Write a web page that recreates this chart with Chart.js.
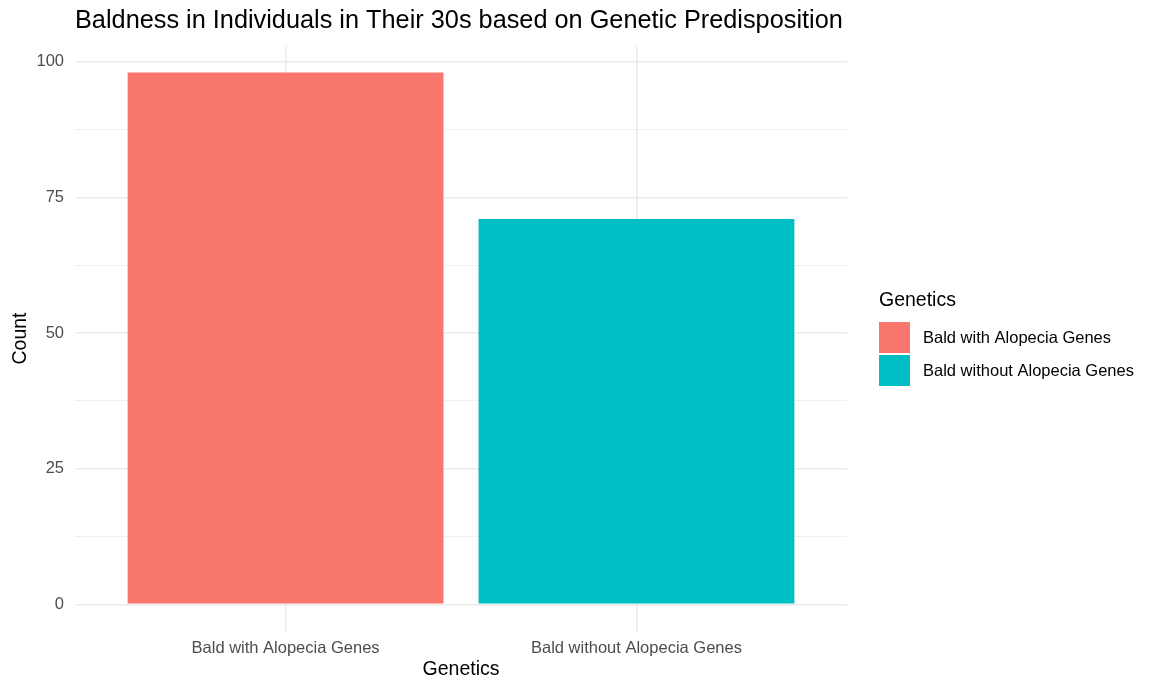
<!DOCTYPE html>
<html>
<head>
<meta charset="utf-8">
<script src="https://cdn.jsdelivr.net/npm/chart.js@4.4.0/dist/chart.umd.min.js"></script>
<style>
  html, body { margin: 0; padding: 0; background: #ffffff; }
  #wrap { width: 1155px; height: 681px; }
</style>
</head>
<body>
<div id="wrap"><canvas id="grafico"></canvas></div>
<script>
// Datos del grafico
const categorias = ['Bald with Alopecia Genes', 'Bald without Alopecia Genes'];
const conteos = [98, 71];
const colores = ['#F8766D', '#00BFC4'];
const ticksY = [0, 25, 50, 75, 100];
const ticksYMenores = [12.5, 37.5, 62.5, 87.5];

const titulo = 'Baldness in Individuals in Their 30s based on Genetic Predisposition';
const tituloLeyenda = 'Genetics';
const FUENTE = '"Liberation Sans", Arial, Helvetica, sans-serif';

// Limites tipo ggplot (expansion 5% en y, 0.6 en x discreto)
const yMax = Math.max(...conteos);
const yMin = -0.05 * yMax;
const yTop = yMax * 1.05;

// Titulo y leyenda dibujados a mano
const pluginTextos = {
    id: 'textos',
    afterDraw(chart) {
        const ctx = chart.ctx;
        const area = chart.chartArea;
        ctx.save();
        ctx.fillStyle = '#000000';
        ctx.font = '25.3px ' + FUENTE;
        ctx.textAlign = 'left';
        ctx.textBaseline = 'middle';
        ctx.fillText(titulo, area.left, 21);

        // leyenda
        const lx = area.right + 32;
        ctx.font = '19.5px ' + FUENTE;
        ctx.fillText(tituloLeyenda, lx, 301);
        ctx.font = '16.5px ' + FUENTE;
        categorias.forEach((c, i) => {
            const ky = 322 + i * 33;
            ctx.fillStyle = colores[i];
            ctx.fillRect(lx, ky, 31, 31);
            ctx.fillStyle = '#000000';
            ctx.fillText(c, lx + 44, ky + 16);
        });
        ctx.restore();
    }
};

new Chart(document.getElementById('grafico'), {
    type: 'bar',
    data: {
        datasets: [{
            data: categorias.map((c, i) => ({ x: i + 1, y: conteos[i] })),
            backgroundColor: colores,
            borderWidth: 0,
            barPercentage: 0.9,
            categoryPercentage: 1.0
        }]
    },
    options: {
        responsive: true,
        maintainAspectRatio: false,
        animation: false,
        layout: { padding: { left: 0, right: 308, top: 46, bottom: 0 } },
        plugins: {
            legend: { display: false },
            tooltip: { enabled: false }
        },
        scales: {
            x: {
                type: 'linear',
                offset: false,
                min: 0.4,
                max: categorias.length + 0.6,
                afterBuildTicks(scale) {
                    scale.ticks = categorias.map((c, i) => ({ value: i + 1 }));
                },
                afterFit(scale) { scale.height = 50; },
                grid: { color: '#EBEBEB', lineWidth: 1.6, drawTicks: false, offset: false },
                border: { display: false },
                ticks: {
                    padding: 8,
                    color: '#4D4D4D',
                    font: { family: FUENTE, size: 16.5 },
                    maxRotation: 0,
                    autoSkip: false,
                    callback: (v) => categorias[v - 1] || ''
                },
                title: {
                    display: true,
                    text: 'Genetics',
                    color: '#000000',
                    font: { family: FUENTE, size: 19.5 },
                    padding: { top: -2, bottom: 0 }
                }
            },
            y: {
                type: 'linear',
                min: yMin,
                max: yTop,
                afterBuildTicks(scale) {
                    scale.ticks = ticksY.concat(ticksYMenores).sort((a, b) => a - b).map(v => ({ value: v }));
                },
                afterFit(scale) { scale.width = 75; },
                grid: {
                    color: '#EBEBEB',
                    lineWidth: (c) => (ticksY.includes(c.tick.value) ? 1.6 : 0.8),
                    drawTicks: false
                },
                border: { display: false },
                ticks: {
                    padding: 11,
                    color: '#4D4D4D',
                    font: { family: FUENTE, size: 16.5 },
                    autoSkip: false,
                    callback: (v) => (ticksY.includes(v) ? String(v) : '')
                },
                title: {
                    display: true,
                    text: 'Count',
                    color: '#000000',
                    font: { family: FUENTE, size: 19.5 },
                    padding: { top: 9, bottom: 0 }
                }
            }
        }
    },
    plugins: [pluginTextos]
});
</script>
</body>
</html>
